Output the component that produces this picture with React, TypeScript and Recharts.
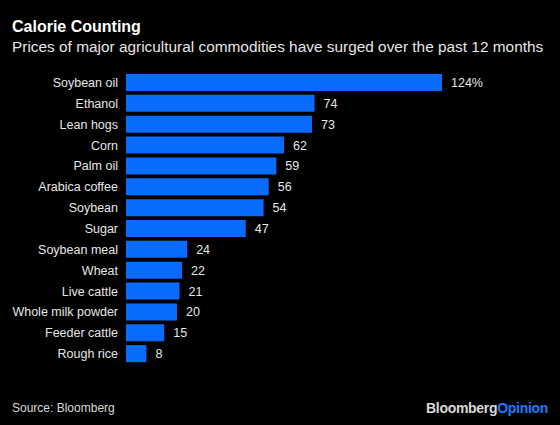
import { BarChart, Bar, XAxis, YAxis, LabelList } from 'recharts';

const commodities = [
  'Soybean oil',
  'Ethanol',
  'Lean hogs',
  'Corn',
  'Palm oil',
  'Arabica coffee',
  'Soybean',
  'Sugar',
  'Soybean meal',
  'Wheat',
  'Live cattle',
  'Whole milk powder',
  'Feeder cattle',
  'Rough rice',
];
const changes = [124, 74, 73, 62, 59, 56, 54, 47, 24, 22, 21, 20, 15, 8];

const data = commodities.map((name, i) => ({ name, value: changes[i] }));

const FONT = '"Liberation Sans", Arial, Helvetica, sans-serif';

// plain single-line tick so long names do not wrap
function NameTick(props: any) {
  const { x, y, payload } = props;
  return (
    <text x={x} y={y} dy={4.5} textAnchor="end" fill="#e6e6e6" fontSize={12.5} fontFamily={FONT}>
      {payload.value}
    </text>
  );
}

export default function App() {
  return (
    <div
      style={{
        position: 'fixed',
        left: 0,
        top: 0,
        width: 560,
        height: 425,
        background: '#000',
        fontFamily: FONT,
        color: '#fff',
        overflow: 'hidden',
      }}
    >
      <div style={{ position: 'absolute', left: 12, top: 18, fontSize: 16, fontWeight: 'bold' }}>
        Calorie Counting
      </div>
      <div style={{ position: 'absolute', left: 12, top: 38, fontSize: 15.4, color: '#e6e6e6' }}>
        Prices of major agricultural commodities have surged over the past 12 months
      </div>
      <div style={{ position: 'absolute', top: 72, left: 0 }}>
        <BarChart
          width={560}
          height={292}
          data={data}
          layout="vertical"
          margin={{ top: 0, right: 118, bottom: 0, left: 0 }}
          barSize={17}
        >
          <XAxis type="number" domain={[0, 124]} hide />
          <YAxis
            type="category"
            dataKey="name"
            width={126}
            tickLine={false}
            axisLine={false}
            interval={0}
            tick={<NameTick />}
          />
          <Bar dataKey="value" fill="#0a6cff" isAnimationActive={false}>
            <LabelList
              dataKey="value"
              position="right"
              offset={9}
              fill="#e6e6e6"
              fontSize={12.5}
              fontFamily={FONT}
              formatter={(v: number) => (v === changes[0] ? `${v}%` : `${v}`)}
            />
          </Bar>
        </BarChart>
      </div>
      <div style={{ position: 'absolute', left: 12, top: 401, fontSize: 12, color: '#d9d9d9' }}>
        Source: Bloomberg
      </div>
      <div style={{ position: 'absolute', right: 12, top: 400, fontSize: 14, fontWeight: 'bold', letterSpacing: -0.3 }}>
        <span style={{ color: '#d9d9d9' }}>Bloomberg</span>
        <span style={{ color: '#1a7cff' }}>Opinion</span>
      </div>
    </div>
  );
}
